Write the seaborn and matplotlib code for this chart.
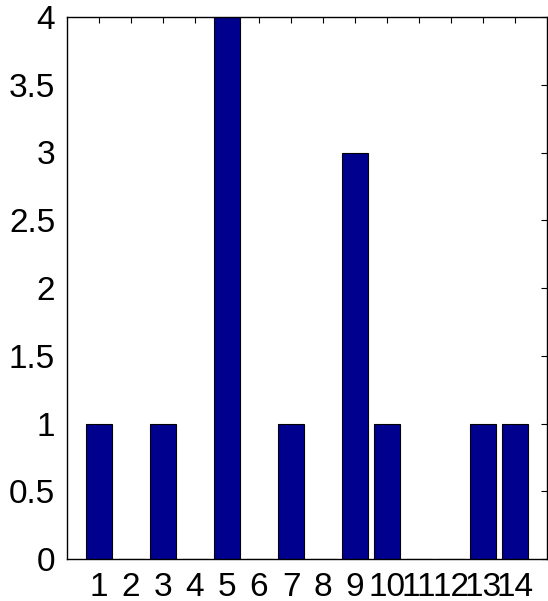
import matplotlib
matplotlib.use("Agg")
import matplotlib.pyplot as plt
import seaborn as sns
import pandas as pd

categories = list(range(1, 15))
counts = [1, 0, 1, 0, 4, 0, 1, 0, 3, 1, 0, 0, 1, 1]
y_ticks = [0, 0.5, 1, 1.5, 2, 2.5, 3, 3.5, 4]
y_tick_labels = ["0", "0.5", "1", "1.5", "2", "2.5", "3", "3.5", "4"]

sns.set_style("white")
plt.rcParams["font.family"] = ["Liberation Sans", "DejaVu Sans"]

df = pd.DataFrame({"bin": categories, "count": counts})

fig = plt.figure(figsize=(5.48, 6.01), dpi=100)
ax = fig.add_axes([67 / 548, 1 - 559 / 601, 480 / 548, 542 / 601])

sns.barplot(data=df, x="bin", y="count", native_scale=True, width=0.8,
            color="#00008F", saturation=1, edgecolor="black", linewidth=0.8,
            ax=ax)

ax.set_xlim(0, 15)
ax.set_ylim(0, 4)
ax.set_xticks(categories)
ax.set_xticklabels([str(c) for c in categories])
ax.set_yticks(y_ticks)
ax.set_yticklabels(y_tick_labels)
ax.set_xlabel("")
ax.set_ylabel("")

for s in ax.spines.values():
    s.set_visible(True)
    s.set_color("black")
    s.set_linewidth(1.0)

ax.tick_params(direction="in", length=4, width=0.8, top=True, right=True,
               labelsize=24, colors="black")
ax.tick_params(axis="x", pad=9)
ax.tick_params(axis="y", pad=8.5)

fig.savefig("out.png", dpi=100)
